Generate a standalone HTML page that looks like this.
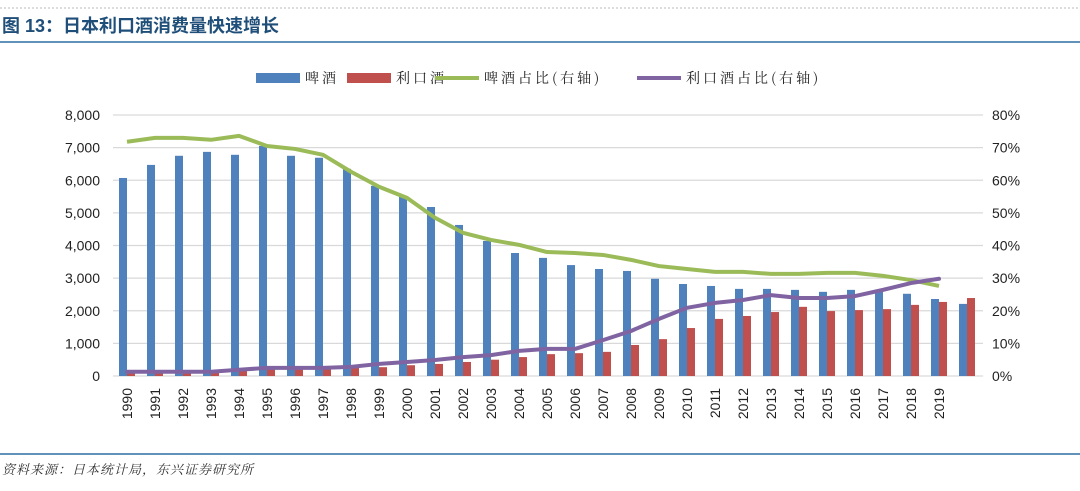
<!DOCTYPE html>
<html><head><meta charset="utf-8">
<style>
body{margin:0;background:#fff;width:1080px;height:486px;overflow:hidden;font-family:"Liberation Sans","Noto Sans CJK SC",sans-serif;}
</style></head>
<body>
<svg id="chart" width="1080" height="486" xmlns="http://www.w3.org/2000/svg" font-family="'Liberation Sans','Noto Sans CJK SC',sans-serif">
<line x1="0" y1="8" x2="1080" y2="8" stroke="#bbb" stroke-dasharray="2,2"/>
<text x="2" y="32" font-size="18" font-weight="bold" fill="#1f4e79">图 13：日本利口酒消费量快速增长</text>
<line x1="0" y1="42" x2="1080" y2="42" stroke="#2e6da4" stroke-width="1.5"/>
<line x1="0" y1="454" x2="1080" y2="454" stroke="#2e6da4" stroke-width="1.5"/>
<text x="2" y="474" font-size="13" font-style="italic" fill="#333" letter-spacing="1" font-family="'Noto Serif CJK SC',serif">资料来源：日本统计局，东兴证券研究所</text>
<g id="legend" font-size="14" fill="#222" letter-spacing="3" font-family="'Noto Serif CJK SC',serif">
<g><rect x="256" y="73" width="44" height="10" fill="#4f81bd"/><text x="305" y="83">啤酒</text></g>
<g><rect x="347" y="73" width="44" height="10" fill="#c0504d"/><text x="396" y="83">利口酒</text></g>
<g><line x1="435" y1="78" x2="479" y2="78" stroke="#9bbb59" stroke-width="4"/><text x="484" y="83">啤酒占比(右轴)</text></g>
<g><line x1="637" y1="78" x2="681" y2="78" stroke="#8064a2" stroke-width="4"/><text x="686" y="83">利口酒占比(右轴)</text></g>
</g>
<g id="grid"></g><g id="bars"></g><g id="lines"></g><g id="axes"></g>
</svg>
<script>
const categories=["1990","1991","1992","1993","1994","1995","1996","1997","1998","1999","2000","2001","2002","2003","2004","2005","2006","2007","2008","2009","2010","2011","2012","2013","2014","2015","2016","2017","2018","2019",""];
const beer=[6070,6470,6750,6870,6780,7050,6750,6690,6350,5830,5490,5180,4630,4140,3770,3620,3400,3280,3220,2980,2820,2760,2670,2670,2640,2580,2640,2580,2520,2360,2210];
const liqueur=[100,120,130,140,170,220,200,220,250,270,330,370,430,500,580,670,700,740,950,1130,1470,1750,1840,1960,2120,1990,2020,2050,2180,2270,2390];
const beerShare=[71.8,73,73,72.4,73.6,70.5,69.6,67.8,62.6,58,54.6,48.5,43.9,41.7,40.2,38,37.7,37.1,35.6,33.7,32.8,31.9,31.9,31.3,31.3,31.6,31.6,30.7,29.4,27.6];
const liqueurShare=[1.3,1.3,1.3,1.3,1.9,2.5,2.5,2.5,2.8,3.7,4.3,4.9,5.8,6.4,7.7,8.3,8.3,11,13.8,17.5,20.9,22.4,23.3,24.8,23.9,23.9,24.5,26.4,28.5,29.8];
const leftTicks=[0,1000,2000,3000,4000,5000,6000,7000,8000];
const rightTicks=[0,10,20,30,40,50,60,70,80];

const NS="http://www.w3.org/2000/svg";
const X0=113,BAND=28,Y0=376,YT=115,W=870;
const yL=v=>Y0-(v/8000)*(Y0-YT);
const yR=v=>Y0-(v/80)*(Y0-YT);
const xC=i=>X0+BAND*i+BAND/2;
function mk(tag,attrs,parent){const e=document.createElementNS(NS,tag);for(const k in attrs)e.setAttribute(k,attrs[k]);document.getElementById(parent).appendChild(e);return e;}
leftTicks.forEach((t,i)=>{
 const g=mk("line",{x1:X0,x2:X0+W,y1:yL(t),y2:yL(t),stroke:"#d9d9d9","stroke-width":1.2},"grid");
 
 
 const a=mk("text",{x:100,y:yL(t)+5,"text-anchor":"end","font-size":14,fill:"#222"},"axes");
 a.textContent=t.toLocaleString("en-US");
 
 
 const r=mk("text",{x:992,y:yR(rightTicks[i])+5,"font-size":14,fill:"#222"},"axes");
 r.textContent=rightTicks[i]+"%";
 
 
});
categories.forEach((c,i)=>{
 const b=mk("rect",{x:xC(i)-8,y:yL(beer[i]),width:8,height:Y0-yL(beer[i]),fill:"#4f81bd"},"bars");
 
 
 const r=mk("rect",{x:xC(i),y:yL(liqueur[i]),width:8,height:Y0-yL(liqueur[i]),fill:"#c0504d"},"bars");
 
 
 if(c){const t=mk("text",{x:0,y:0,"font-size":14,fill:"#222","text-anchor":"end",transform:`translate(${xC(i)+5},388) rotate(-90)`},"axes");
 t.textContent=c;
 
 }
});
const bl=mk("polyline",{points:beerShare.map((v,i)=>xC(i)+","+yR(v)).join(" "),fill:"none",stroke:"#9bbb59","stroke-width":4,"stroke-linejoin":"round"},"lines");


const pl=mk("polyline",{points:liqueurShare.map((v,i)=>xC(i)+","+yR(v)).join(" "),fill:"none",stroke:"#8064a2","stroke-width":4,"stroke-linejoin":"round","stroke-linecap":"round"},"lines");


</script>
</body></html>
